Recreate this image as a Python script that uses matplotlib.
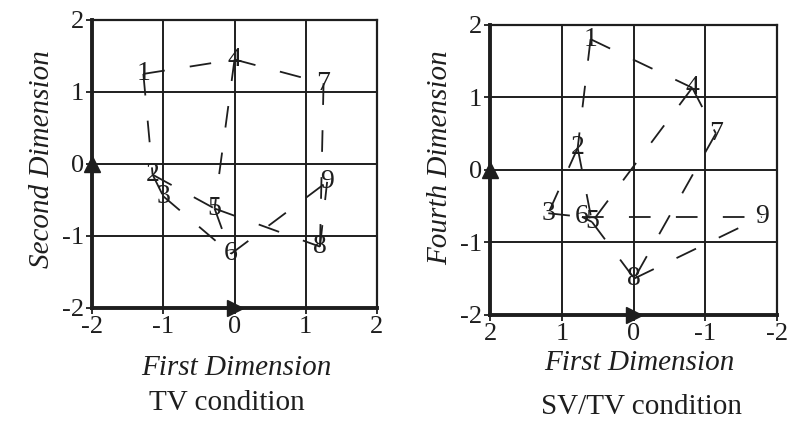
import matplotlib
matplotlib.use("Agg")
import matplotlib.pyplot as plt

# stimulus positions
labels = ["1", "2", "3", "4", "5", "6", "7", "8", "9"]
tv_x = [-1.28, -1.15, -1.0, 0.0, -0.28, -0.05, 1.25, 1.2, 1.3]
tv_y = [1.25, -0.15, -0.45, 1.45, -0.62, -1.25, 1.12, -1.15, -0.25]
sv_x = [0.6, 0.78, 1.19, -0.82, 0.58, 0.72, -1.15, -0.01, -1.79]
sv_y = [1.8, 0.3, -0.6, 1.13, -0.72, -0.65, 0.5, -1.5, -0.65]
# lattice edges between stimuli
edges = [(1, 4), (4, 7), (2, 5), (5, 8), (3, 6), (6, 9),
         (1, 2), (2, 3), (4, 5), (5, 6), (7, 8), (8, 9)]
ticks = [-2, -1, 0, 1, 2]

plt.rcParams["font.family"] = ["Liberation Serif", "DejaVu Serif"]
ink = "#1e1e1e"

fig = plt.figure(figsize=(7.87, 4.33), dpi=100)
ax1 = fig.add_axes([0.117, 0.289, 0.362, 0.665])
ax2 = fig.add_axes([0.623, 0.273, 0.364, 0.670])


def panel(ax, xs, ys, ylab, xlab, title, inverted, xl, yl, tx, ty):
    for a, b in edges:
        ax.plot([xs[a - 1], xs[b - 1]], [ys[a - 1], ys[b - 1]],
                color=ink, lw=1.3, dashes=(12, 14), zorder=2)
    for i in range(len(labels)):
        ax.text(xs[i], ys[i], labels[i], fontsize=20, color=ink,
                ha="center", va="center", zorder=3)
    ax.set_xlim(-2, 2)
    ax.set_ylim(-2, 2)
    if inverted:
        ax.invert_xaxis()
    ax.set_xticks(ticks)
    ax.set_yticks(ticks)
    ax.set_xticklabels([str(t) for t in ticks])
    ax.set_yticklabels([str(t) for t in ticks])
    ax.tick_params(labelsize=19, colors=ink, length=4, width=1.3, pad=2)
    ax.grid(True, color=ink, lw=1.4)
    ax.set_axisbelow(True)
    for s in ["top", "right"]:
        ax.spines[s].set_linewidth(1.6)
        ax.spines[s].set_color(ink)
    for s in ["left", "bottom"]:
        ax.spines[s].set_linewidth(2.8)
        ax.spines[s].set_color(ink)
    left = 2 if inverted else -2
    ax.plot([left], [0], marker="^", ms=12, color=ink, clip_on=False, zorder=4)
    ax.plot([0], [-2], marker=">", ms=12, color=ink, clip_on=False, zorder=4)
    fig.text(xl[0], xl[1], xlab, fontsize=21, style="italic", color=ink,
             ha="center", va="center")
    fig.text(yl[0], yl[1], ylab, fontsize=21, style="italic", color=ink,
             ha="center", va="center", rotation=90)
    fig.text(tx, ty, title, fontsize=21, color=ink, ha="center", va="center")


panel(ax1, tv_x, tv_y, "Second Dimension", "First Dimension", "TV condition",
      False, (0.300, 0.150), (0.053, 0.633), 0.288, 0.069)
panel(ax2, sv_x, sv_y, "Fourth Dimension", "First Dimension", "SV/TV condition",
      True, (0.812, 0.162), (0.559, 0.635), 0.815, 0.060)

fig.savefig("out.png", dpi=100)
